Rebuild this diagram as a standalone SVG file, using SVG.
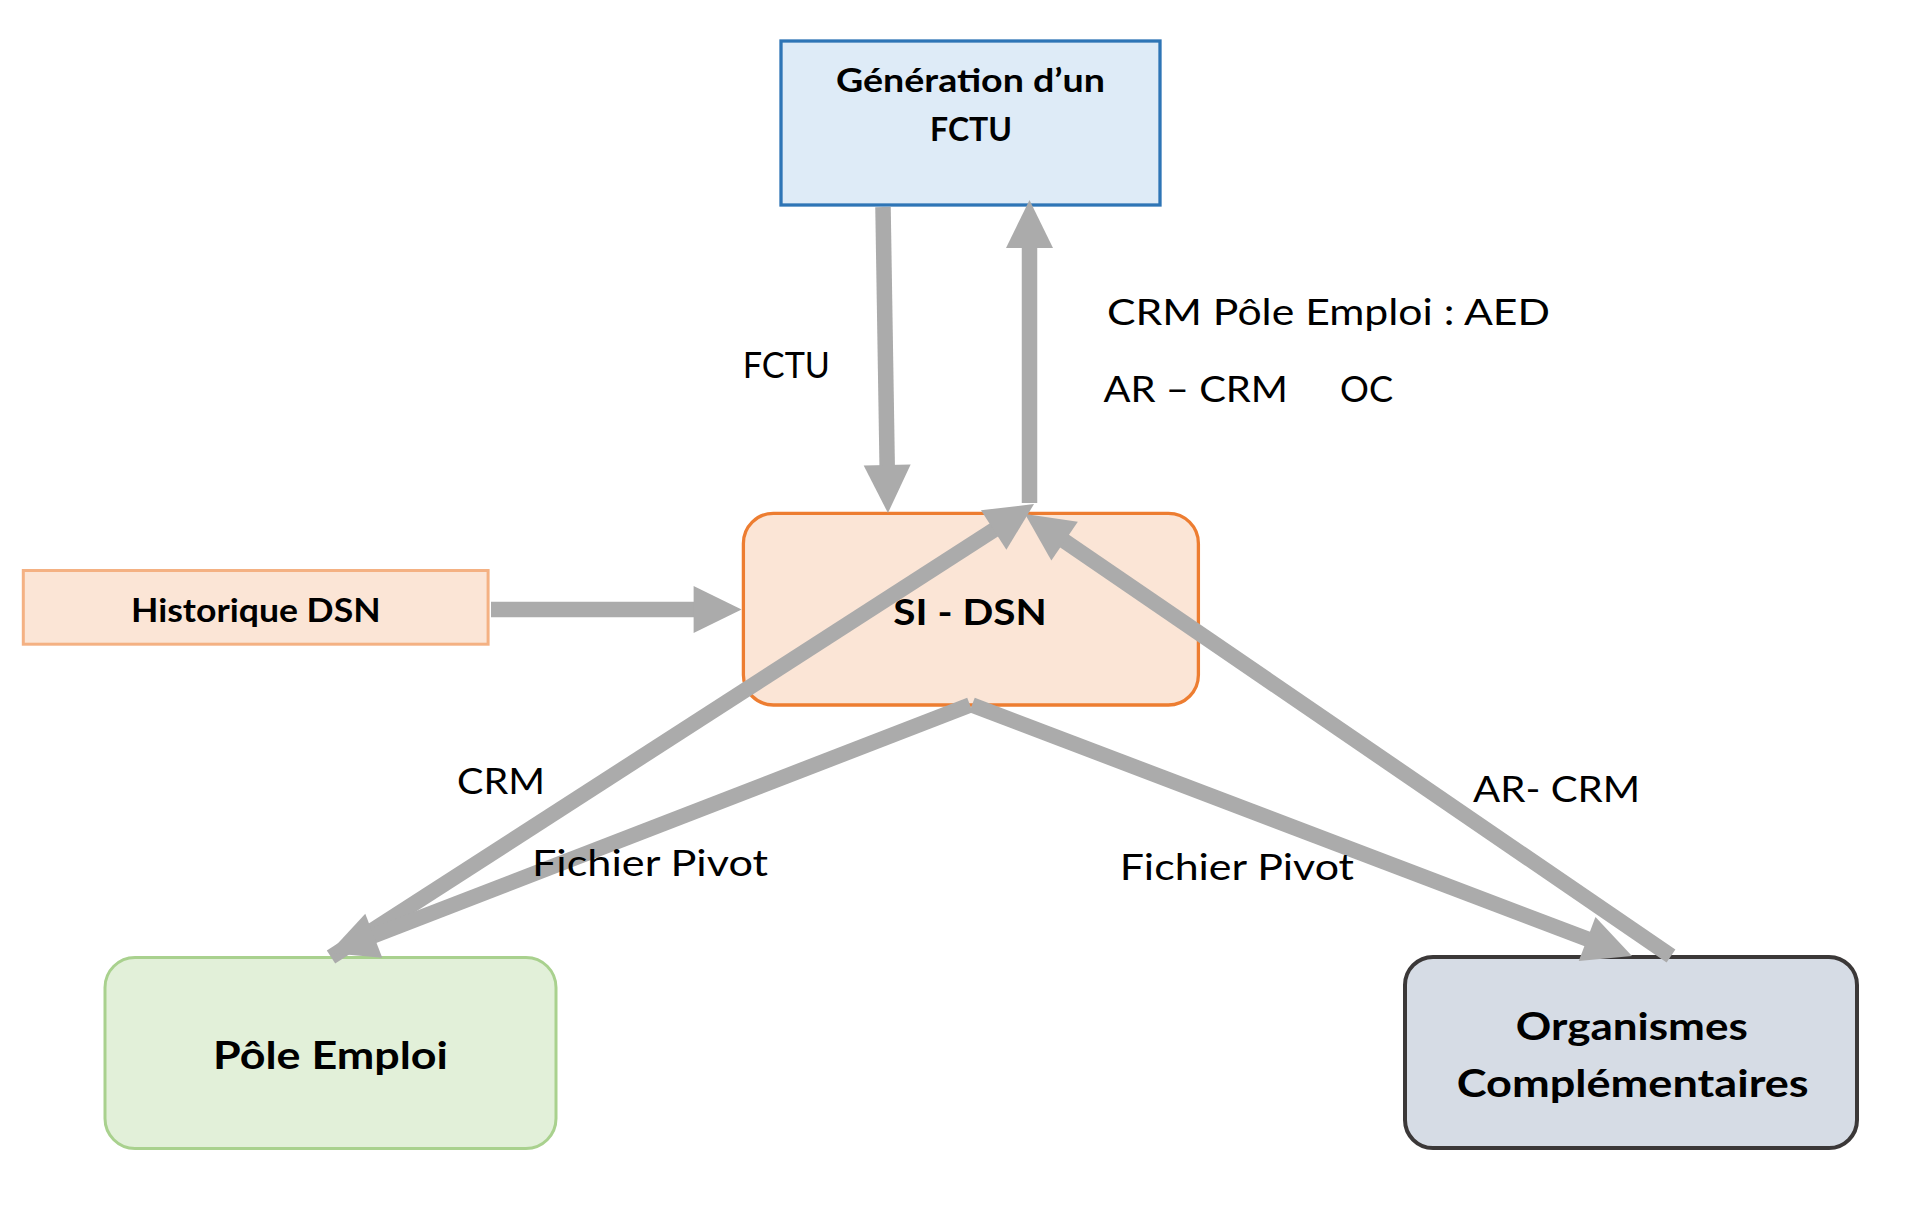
<svg xmlns="http://www.w3.org/2000/svg" width="1926" height="1208" viewBox="0 0 1926 1208">
<style>
.bg{fill:#FFFFFF}
.nt{font-family:Lato,"Open Sans","Liberation Sans",sans-serif;font-weight:bold;fill:#000000}
.lb{font-family:Lato,"Open Sans","Liberation Sans",sans-serif;font-weight:normal;fill:#000000;font-size:37px}
.cn{fill:none;stroke:#ABABAB;stroke-width:15.5;stroke-linecap:butt}
</style>
<defs>
<marker id="ah" markerUnits="userSpaceOnUse" markerWidth="48" markerHeight="47" refX="8" refY="23.5" orient="auto" overflow="visible">
<path d="M0,0 L48,23.5 L0,47 Z" fill="#ABABAB"/>
</marker>
</defs>
<rect class="bg" x="0" y="0" width="1926" height="1208"/>

<g id="node-generation">
<rect x="781" y="41" width="379" height="164" fill="#DEEBF7" stroke="#2E75B6" stroke-width="3.3"/>
<text class="nt" font-size="33" x="836" y="92" textLength="269" lengthAdjust="spacingAndGlyphs">Génération d’un</text>
<text class="nt" font-size="33" x="930" y="141" textLength="82" lengthAdjust="spacingAndGlyphs">FCTU</text>
</g>

<g id="node-historique">
<rect x="23.3" y="570.5" width="464.8" height="73.7" fill="#FBE5D6" stroke="#F4B183" stroke-width="3"/>
<text class="nt" font-size="33" x="131" y="621.7" textLength="249.6" lengthAdjust="spacingAndGlyphs">Historique DSN</text>
</g>

<g id="node-si-dsn">
<rect x="743.4" y="513.4" width="455" height="191.6" rx="30" ry="30" fill="#FBE5D6" stroke="#ED7D31" stroke-width="3.3"/>
<text class="nt" font-size="37" x="893.3" y="625" textLength="153.4" lengthAdjust="spacingAndGlyphs">SI - DSN</text>
</g>

<g id="node-pole-emploi">
<rect x="105" y="957.5" width="451" height="191" rx="30" ry="30" fill="#E2F0D9" stroke="#A9D18E" stroke-width="3"/>
<text class="nt" font-size="38" x="213" y="1069" textLength="235" lengthAdjust="spacingAndGlyphs">Pôle Emploi</text>
</g>

<g id="node-organismes">
<rect x="1405" y="957" width="452" height="191" rx="28" ry="28" fill="#D6DCE5" stroke="#3B3838" stroke-width="4"/>
<text class="nt" font-size="38" x="1515.8" y="1040" textLength="232" lengthAdjust="spacingAndGlyphs">Organismes</text>
<text class="nt" font-size="38" x="1456.7" y="1096.7" textLength="352" lengthAdjust="spacingAndGlyphs">Complémentaires</text>
</g>

<g id="connectors">
<line class="cn" x1="883" y1="207" x2="887.3" y2="473" marker-end="url(#ah)"/>
<line class="cn" x1="1029.5" y1="503" x2="1029.5" y2="240" marker-end="url(#ah)"/>
<line class="cn" x1="491" y1="609.5" x2="701.6" y2="609.5" marker-end="url(#ah)"/>
<line class="cn" x1="331" y1="957" x2="1000.4" y2="525.7" marker-end="url(#ah)"/>
<line class="cn" x1="1671" y1="956" x2="1058" y2="536.6" marker-end="url(#ah)"/>
<line class="cn" x1="970" y1="705" x2="366.3" y2="938.6" marker-end="url(#ah)"/>
<line class="cn" x1="972" y1="705" x2="1594.6" y2="941.8" marker-end="url(#ah)"/>
</g>

<g id="labels">
<text class="lb" x="742.7" y="377.7" textLength="87.3" lengthAdjust="spacingAndGlyphs">FCTU</text>
<text class="lb" x="1107" y="325" textLength="443" lengthAdjust="spacingAndGlyphs">CRM Pôle Emploi : AED</text>
<text class="lb" x="1103.4" y="401.7" textLength="184.6" lengthAdjust="spacingAndGlyphs">AR – CRM</text>
<text class="lb" x="1340" y="401.7" textLength="53" lengthAdjust="spacingAndGlyphs">OC</text>
<text class="lb" x="457" y="794" textLength="88" lengthAdjust="spacingAndGlyphs">CRM</text>
<text class="lb" x="532" y="876" textLength="236" lengthAdjust="spacingAndGlyphs">Fichier Pivot</text>
<text class="lb" x="1119.7" y="880" textLength="234.3" lengthAdjust="spacingAndGlyphs">Fichier Pivot</text>
<text class="lb" x="1473" y="801.7" textLength="167" lengthAdjust="spacingAndGlyphs">AR- CRM</text>
</g>
</svg>
